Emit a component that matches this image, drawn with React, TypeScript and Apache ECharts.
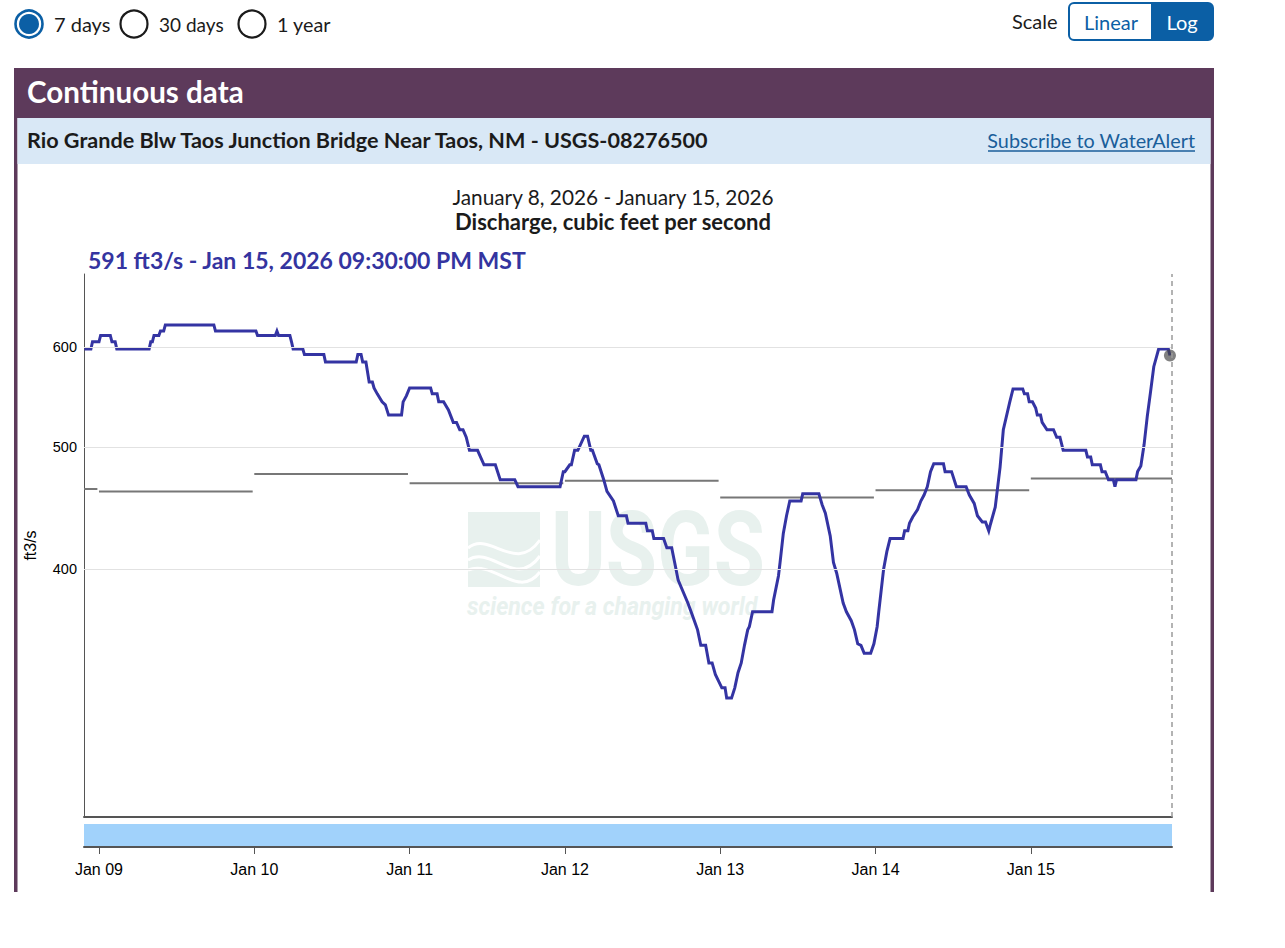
import React, { useEffect, useRef } from "react";
import * as echarts from "echarts";

// ---------- data ----------
const flowTimes = [
  "01-08 21:45", "01-08 22:45", "01-08 23:00", "01-09 00:00", "01-09 00:15", "01-09 01:45", "01-09 02:00", "01-09 02:30",
  "01-09 02:45", "01-09 07:45", "01-09 08:00", "01-09 08:15", "01-09 08:30", "01-09 09:15", "01-09 09:30", "01-09 10:00",
  "01-09 10:15", "01-09 17:45", "01-09 18:00", "01-10 00:15", "01-10 00:30", "01-10 03:15", "01-10 03:30", "01-10 03:45",
  "01-10 05:30", "01-10 05:45", "01-10 06:00", "01-10 07:30", "01-10 07:45", "01-10 10:45", "01-10 11:00", "01-10 15:45",
  "01-10 16:00", "01-10 16:30", "01-10 16:45", "01-10 17:15", "01-10 17:45", "01-10 18:15", "01-10 18:30", "01-10 19:00",
  "01-10 19:45", "01-10 20:15", "01-10 20:45", "01-10 22:45", "01-10 23:00", "01-10 23:30", "01-11 00:00", "01-11 03:15",
  "01-11 03:30", "01-11 04:15", "01-11 04:30", "01-11 05:15", "01-11 06:00", "01-11 06:45", "01-11 07:15", "01-11 07:45",
  "01-11 08:15", "01-11 08:45", "01-11 09:15", "01-11 10:30", "01-11 11:30", "01-11 13:15", "01-11 14:00", "01-11 16:15",
  "01-11 16:45", "01-11 23:15", "01-11 23:45", "01-12 00:00", "01-12 00:45", "01-12 01:00", "01-12 01:30", "01-12 02:00",
  "01-12 03:00", "01-12 03:30", "01-12 04:00", "01-12 04:15", "01-12 05:00", "01-12 05:15", "01-12 06:00", "01-12 06:30",
  "01-12 07:30", "01-12 08:15", "01-12 09:30", "01-12 09:45", "01-12 12:30", "01-12 12:45", "01-12 13:30", "01-12 13:45",
  "01-12 15:15", "01-12 15:45", "01-12 16:30", "01-12 17:00", "01-12 17:30", "01-12 19:00", "01-12 19:30", "01-12 20:00",
  "01-12 20:30", "01-12 21:00", "01-12 21:45", "01-12 22:15", "01-12 22:45", "01-12 23:15", "01-12 23:45", "01-13 00:15",
  "01-13 00:45", "01-13 01:00", "01-13 01:45", "01-13 02:15", "01-13 02:45", "01-13 03:15", "01-13 03:45", "01-13 04:15",
  "01-13 04:30", "01-13 05:00", "01-13 08:00", "01-13 08:15", "01-13 09:00", "01-13 09:15", "01-13 09:45", "01-13 10:15",
  "01-13 10:45", "01-13 12:30", "01-13 12:45", "01-13 15:15", "01-13 15:45", "01-13 16:15", "01-13 17:00", "01-13 17:30",
  "01-13 18:00", "01-13 19:00", "01-13 19:30", "01-13 20:15", "01-13 20:45", "01-13 21:15", "01-13 21:45", "01-13 22:15",
  "01-13 23:15", "01-13 23:45", "01-14 00:15", "01-14 00:30", "01-14 01:15", "01-14 01:45", "01-14 02:15", "01-14 04:15",
  "01-14 04:30", "01-14 05:00", "01-14 05:15", "01-14 05:45", "01-14 06:30", "01-14 07:00", "01-14 07:30", "01-14 08:00",
  "01-14 08:30", "01-14 09:00", "01-14 10:30", "01-14 10:45", "01-14 11:45", "01-14 12:30", "01-14 14:00", "01-14 14:30",
  "01-14 15:15", "01-14 15:45", "01-14 16:30", "01-14 17:00", "01-14 17:30", "01-14 17:45", "01-14 18:30", "01-14 19:15",
  "01-14 19:45", "01-14 20:45", "01-14 21:15", "01-14 22:45", "01-14 23:00", "01-14 23:30", "01-14 23:45", "01-15 00:15",
  "01-15 00:45", "01-15 01:00", "01-15 01:30", "01-15 01:45", "01-15 02:30", "01-15 03:30", "01-15 04:00", "01-15 04:30",
  "01-15 05:00", "01-15 08:30", "01-15 08:45", "01-15 09:15", "01-15 09:30", "01-15 10:45", "01-15 11:00", "01-15 11:30",
  "01-15 12:00", "01-15 12:45", "01-15 13:00", "01-15 13:15", "01-15 16:15", "01-15 16:30", "01-15 17:00", "01-15 17:30",
  "01-15 18:00", "01-15 18:30", "01-15 19:00", "01-15 19:45", "01-15 21:15", "01-15 21:30",
];
const flowValues = [
  598, 598, 606, 606, 613, 613, 606, 606,
  598, 598, 606, 606, 613, 613, 618, 618,
  625, 625, 618, 618, 613, 613, 618, 613,
  613, 606, 598, 598, 592, 592, 584, 584,
  592, 592, 584, 584, 563, 563, 557, 551,
  543, 540, 530, 530, 543, 549, 557, 557,
  551, 551, 543, 543, 535, 523, 523, 516,
  516, 509, 497, 497, 484, 484, 471, 471,
  465, 465, 478, 478, 484, 484, 497, 497,
  510, 510, 497, 497, 485, 484, 471, 461,
  453, 441, 441, 435, 435, 429, 429, 423,
  423, 416, 416, 404, 392, 376, 370, 364,
  358, 348, 348, 337, 337, 330, 326, 322,
  322, 316, 316, 322, 331, 337, 348, 358,
  360, 370, 370, 378, 395, 405, 427, 441,
  453, 453, 459, 459, 450, 443, 425, 405,
  397, 376, 370, 364, 358, 349, 348, 343,
  343, 349, 360, 370, 400, 413, 423, 423,
  429, 429, 435, 440, 446, 453, 458, 465,
  478, 485, 485, 478, 478, 465, 465, 458,
  451, 441, 436, 436, 429, 434, 448, 482,
  516, 543, 556, 556, 551, 551, 543, 543,
  537, 530, 530, 523, 516, 516, 509, 509,
  497, 497, 491, 491, 484, 484, 478, 478,
  471, 471, 465, 471, 471, 478, 483, 502,
  529, 553, 579, 598, 598, 591,
];

// daily statistic (gray steps), one value per day
const statDays = ["01-08", "01-09", "01-10", "01-11", "01-12", "01-13", "01-14", "01-15"];
const statValues = [463, 461, 476, 468, 470, 456, 462, 472];

// axis ticks
const tickDays = ["01-09", "01-10", "01-11", "01-12", "01-13", "01-14", "01-15"];
const tickLabels = ["Jan 09", "Jan 10", "Jan 11", "Jan 12", "Jan 13", "Jan 14", "Jan 15"];
const yTicks = [400, 500, 600];

const latestTime = "01-15 21:30";
const latestValue = 591;

const axisStart = "01-08 21:41";
const axisEnd = "01-15 21:49";
const yMin = 254.3;
const yMax = 685.9;

// ---------- helpers ----------
function ts(s: string): number {
  const [md, hm] = s.split(" ");
  const [mo, d] = md.split("-").map(Number);
  const [h, m] = (hm || "00:00").split(":").map(Number);
  return new Date(2026, mo - 1, d, h, m).getTime();
}

const BLUE = "#0b5fa5";
const PURPLE = "#5d3a5b";
const INK = "#1b1b1b";
const UI_FONT = "Lato, 'Noto Sans', sans-serif";
const AX_FONT = "'Liberation Sans', Arial, sans-serif";

function txt(x: number, y: number, text: string, size: number, o: any = {}) {
  return {
    type: "text",
    x,
    y,
    z: 10,
    silent: true,
    scaleX: o.scaleX || 1,
    style: {
      text,
      x: 0,
      y: 0,
      fill: o.fill || INK,
      fontSize: size,
      fontFamily: o.family || UI_FONT,
      fontWeight: o.weight || "normal",
      fontStyle: o.style || "normal",
      align: o.align || "left",
      textAlign: o.align || "left",
      verticalAlign: o.valign || "middle",
      textVerticalAlign: o.valign || "middle",
    },
  };
}

export default function App() {
  const ref = useRef<HTMLDivElement>(null);

  useEffect(() => {
    if (!ref.current) return;
    const chart = echarts.init(ref.current, undefined, { renderer: "svg" });

    const xMin = ts(axisStart);
    const xMax = ts(axisEnd);
    const flowData = flowTimes.map((t, i) => [ts(t), flowValues[i]]);

    const statData: any[] = [];
    statDays.forEach((d, i) => {
      const s = i === 0 ? xMin : ts(d + " 00:00");
      const e = i === statDays.length - 1 ? xMax : ts(d + " 23:45");
      statData.push([s, statValues[i]]);
      statData.push([e, statValues[i]]);
      statData.push([e + 60000, "-"]);
    });

    const tickTs = tickDays.map((d) => ts(d + " 00:00"));

    const graphic: any[] = [
      // radio buttons
      { type: "circle", shape: { cx: 29, cy: 24, r: 13.5 }, style: { fill: "#fff", stroke: BLUE, lineWidth: 2.6 }, silent: true },
      { type: "circle", shape: { cx: 29, cy: 24, r: 10 }, style: { fill: BLUE }, silent: true },
      txt(54, 24, "7 days", 20),
      { type: "circle", shape: { cx: 134, cy: 24, r: 13.5 }, style: { fill: "#fff", stroke: INK, lineWidth: 2.2 }, silent: true },
      txt(159, 24, "30 days", 19),
      { type: "circle", shape: { cx: 252, cy: 24, r: 13.5 }, style: { fill: "#fff", stroke: INK, lineWidth: 2.2 }, silent: true },
      txt(277, 24, "1 year", 19.8),
      // scale toggle
      txt(1012, 21, "Scale", 20),
      { type: "rect", shape: { x: 1069, y: 3, width: 144, height: 37, r: 5 }, style: { fill: "#fff", stroke: BLUE, lineWidth: 2 }, silent: true },
      { type: "rect", shape: { x: 1151, y: 3, width: 62, height: 37, r: [0, 5, 5, 0] }, style: { fill: BLUE }, silent: true },
      txt(1111, 22, "Linear", 20, { align: "center", fill: BLUE }),
      txt(1182, 22, "Log", 20, { align: "center", fill: "#fff" }),
      // panel
      { type: "rect", shape: { x: 14, y: 68, width: 1200, height: 50 }, style: { fill: PURPLE }, silent: true },
      { type: "rect", shape: { x: 14, y: 68, width: 3.5, height: 824 }, style: { fill: PURPLE }, silent: true },
      { type: "rect", shape: { x: 1210.5, y: 68, width: 3.5, height: 824 }, style: { fill: PURPLE }, silent: true },
      { type: "rect", shape: { x: 17.5, y: 118, width: 1193, height: 46 }, style: { fill: "#d9e8f6" }, silent: true },
      txt(27, 91, "Continuous data", 29.6, { weight: "bold", fill: "#fff" }),
      txt(27, 140, "Rio Grande Blw Taos Junction Bridge Near Taos, NM - USGS-08276500", 21.6, { weight: "bold" }),
      txt(1195, 140, "Subscribe to WaterAlert", 19.8, { align: "right", fill: "#1a5e9a" }),
      { type: "line", shape: { x1: 988, y1: 151, x2: 1195, y2: 151 }, style: { stroke: "#1a5e9a", lineWidth: 1.5 }, silent: true },
      // chart titles
      txt(613, 196, "January 8, 2026 - January 15, 2026", 20.8, { align: "center" }),
      txt(613, 221, "Discharge, cubic feet per second", 22, { align: "center", weight: "bold" }),
      txt(88, 260, `${latestValue} ft3/s - Jan 15, 2026 09:30:00 PM MST`, 23, { weight: "bold", fill: "#3434a0" }),
      // watermark
      {
        type: "group",
        z: 0,
        silent: true,
        children: [
          { type: "rect", shape: { x: 468, y: 512, width: 72, height: 75 }, style: { fill: "#e8f1ee" }, z: 0 },
          { type: "bezierCurve", shape: { x1: 468, y1: 548, cpx1: 490, cpy1: 530, cpx2: 515, cpy2: 575, x2: 540, y2: 540 }, style: { stroke: "#fff", lineWidth: 3, fill: "none" }, z: 1 },
          { type: "bezierCurve", shape: { x1: 468, y1: 560, cpx1: 492, cpy1: 545, cpx2: 515, cpy2: 590, x2: 540, y2: 556 }, style: { stroke: "#fff", lineWidth: 3, fill: "none" }, z: 1 },
          { type: "bezierCurve", shape: { x1: 468, y1: 570, cpx1: 495, cpy1: 560, cpx2: 518, cpy2: 600, x2: 540, y2: 572 }, style: { stroke: "#fff", lineWidth: 3, fill: "none" }, z: 1 },
          {
            type: "text", x: 551, y: 550, scaleX: 0.8, z: 0,
            style: { text: "USGS", x: 0, y: 0, fill: "#e8f1ee", fontSize: 104, fontFamily: "Roboto, sans-serif", fontWeight: "bold", align: "left", textAlign: "left", verticalAlign: "middle", textVerticalAlign: "middle" },
          },
          {
            type: "text", x: 467, y: 606, scaleX: 0.89, z: 0,
            style: { text: "science for a changing world", x: 0, y: 0, fill: "#e8f1ee", fontSize: 26, fontFamily: "Roboto, sans-serif", fontWeight: "bold", fontStyle: "italic", align: "left", textAlign: "left", verticalAlign: "middle", textVerticalAlign: "middle" },
          },
        ],
      },
    ];

    const option: any = {
      animation: false,
      graphic,
      grid: [
        { left: 84, top: 274, width: 1088, height: 543, containLabel: false },
        { left: 84, top: 824, width: 1088, height: 23, show: true, backgroundColor: "#a1d2fb", borderWidth: 0 },
      ],
      xAxis: [
        {
          type: "time",
          gridIndex: 0,
          min: xMin,
          max: xMax,
          axisLine: { show: true, lineStyle: { color: "#555", width: 2 } },
          axisTick: { show: false },
          axisLabel: { show: false },
          splitLine: { show: false },
        },
        {
          type: "value",
          gridIndex: 1,
          min: xMin,
          max: xMax,
          position: "bottom",
          offset: 5,
          axisLine: { show: true, lineStyle: { color: "#555", width: 2 } },
          axisTick: { show: true, length: 7, customValues: tickTs, lineStyle: { color: "#555", width: 1 } },
          axisLabel: {
            show: true,
            customValues: tickTs,
            margin: 9,
            color: "#000",
            fontSize: 16,
            fontFamily: AX_FONT,
            formatter: (v: number) => {
              const i = tickTs.indexOf(v);
              return i >= 0 ? tickLabels[i] : "";
            },
          },
          splitLine: { show: false },
        },
      ],
      yAxis: [
        {
          type: "log",
          logBase: 10,
          gridIndex: 0,
          min: yMin,
          max: yMax,
          name: "ft3/s",
          nameLocation: "middle",
          nameGap: 46,
          nameTextStyle: { color: "#000", fontSize: 16, fontFamily: AX_FONT, padding: [0, 0, 0, 0] },
          axisLine: { show: true, lineStyle: { color: "#555", width: 1 } },
          axisTick: { show: false },
          axisLabel: { show: false },
          splitLine: { show: false },
        },
        { type: "value", gridIndex: 1, show: false, min: 0, max: 1 },
      ],
      series: [
        {
          type: "line",
          name: "stat",
          xAxisIndex: 0,
          yAxisIndex: 0,
          data: statData,
          showSymbol: false,
          connectNulls: false,
          lineStyle: { color: "#777", width: 2 },
          silent: true,
          z: 2,
          markLine: {
            silent: true,
            symbol: ["none", "none"],
            lineStyle: { color: "#e2e2e2", width: 1, type: "solid" },
            label: {
              show: true,
              position: "start",
              distance: 7,
              color: "#000",
              fontSize: 14.5,
              fontFamily: AX_FONT,
              formatter: (p: any) => String(p.value),
            },
            emphasis: { disabled: true },
            data: yTicks.map((v) => ({ yAxis: v })),
          },
        },
        {
          type: "line",
          name: "discharge",
          xAxisIndex: 0,
          yAxisIndex: 0,
          data: flowData,
          showSymbol: false,
          lineStyle: { color: "#3434a3", width: 3, join: "miter" },
          silent: true,
          z: 3,
          markLine: {
            silent: true,
            symbol: ["none", "none"],
            lineStyle: { color: "#9a9a9a", width: 1.5, type: [5, 4] },
            label: { show: false },
            emphasis: { disabled: true },
            data: [{ xAxis: xMax - 60000 }],
          },
        },
        {
          type: "scatter",
          xAxisIndex: 0,
          yAxisIndex: 0,
          data: [[ts(latestTime), latestValue]],
          symbolSize: 12,
          itemStyle: { color: "rgba(70,70,70,0.85)" },
          silent: true,
          z: 4,
        },
      ],
    };

    chart.setOption(option);
    return () => chart.dispose();
  }, []);

  return (
    <div
      ref={ref}
      style={{ position: "absolute", left: 0, top: 0, width: 1285, height: 948, background: "#fff" }}
    />
  );
}
